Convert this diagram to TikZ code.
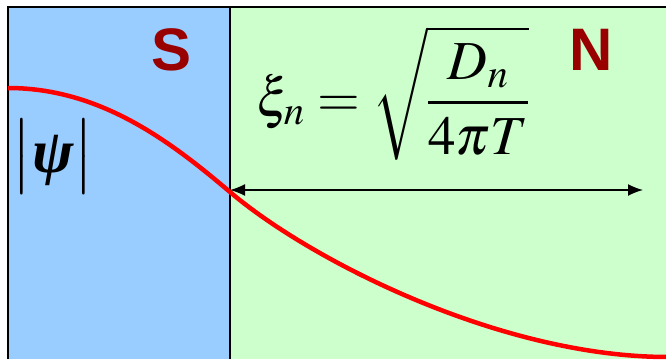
\documentclass[tikz,border=0pt]{standalone}
\usepackage{mathptmx}
\usepackage{fontspec}
\setmainfont{Liberation Serif}
\newfontfamily\arialfont{Liberation Sans}
\usetikzlibrary{arrows.meta}
\definecolor{sblue}{HTML}{99CCFF}
\definecolor{ngreen}{HTML}{CCFFCC}
\definecolor{lbl}{HTML}{990000}
\begin{document}
\begin{tikzpicture}[x=1pt,y=-1pt,
  region/.style={font=\arialfont\bfseries\fontsize{60}{62}\selectfont, text=lbl, inner sep=0pt},
  eqn/.style={font=\fontsize{55}{63}\selectfont, inner sep=0pt},
  psistyle/.style={font=\fontsize{62}{66}\selectfont, inner sep=0pt},
  arr/.style={line width=1.5pt, {Latex[length=15pt,width=12pt]}-{Latex[length=15pt,width=12pt]}}]
\useasboundingbox (0,0) rectangle (666,359);
\fill[sblue] (8,7) rectangle (230,359);
\fill[ngreen] (230,7) rectangle (666,359);
\draw[line width=1.5pt] (8,359) -- (8,7) -- (666,7);
\draw[line width=1.2pt] (230,7) -- (230,359);
\coordinate (c0) at (8,88);
\coordinate (cm) at (230,192);
\coordinate (c1) at (668,357);
\draw[red, line width=4.5pt] (c0) .. controls (100,88) and (170,141) .. (cm)
  .. controls (310,260) and (500,357) .. (c1);
\coordinate (a) at (230,190);
\coordinate (b) at (643,190);
\draw[arr] (a) -- (b);
\node[region] (S) at (172,50) {S};
\node[region] (N) at (591,50) {N};
\node[psistyle] (psi) at (53,157) {$\left|\rule[-22pt]{0pt}{64pt}\mbox{\bfseries\itshape ψ}\right|$};
\node[eqn] (xi) at (393,93) {$\displaystyle \xi_n = \sqrt{\frac{D_n}{4\pi T}}$};
\end{tikzpicture}
\end{document}
